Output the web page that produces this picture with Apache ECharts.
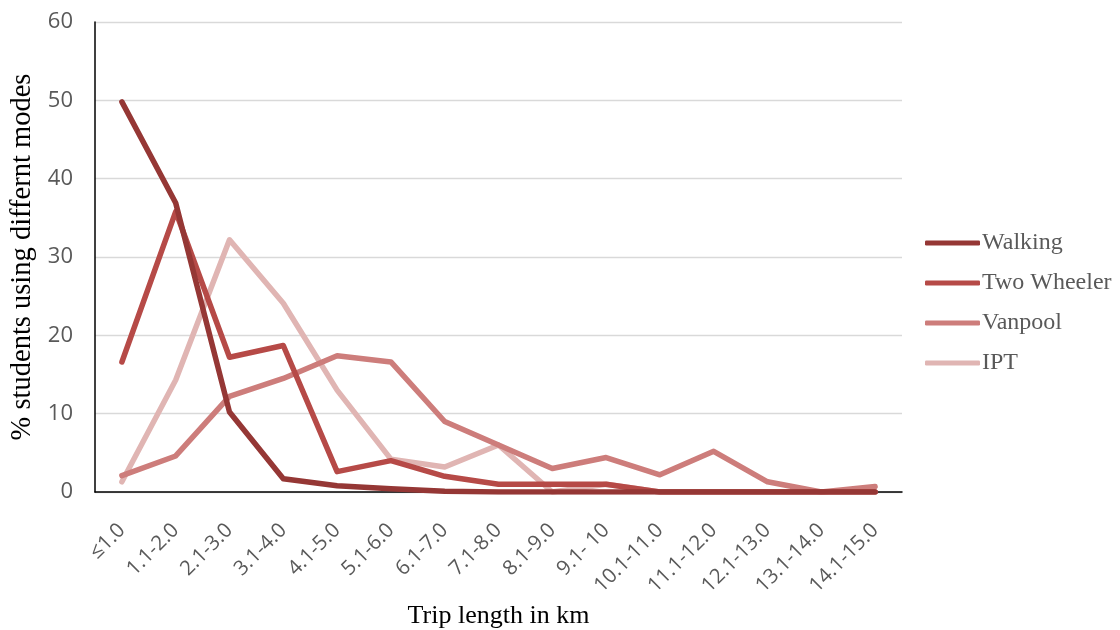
<!DOCTYPE html>
<html>
<head>
<meta charset="utf-8">
<script src="https://cdn.jsdelivr.net/npm/echarts@6/dist/echarts.min.js"></script>
<style>
  html, body { margin: 0; padding: 0; background: #fff; }
  #chart { width: 1120px; height: 630px; }
</style>
</head>
<body>
<div id="chart"></div>
<script>
// Trip length bands (km)
const categories = ['≤1.0', '1.1-2.0', '2.1-3.0', '3.1-4.0', '4.1-5.0', '5.1-6.0', '6.1-7.0',
  '7.1-8.0', '8.1-9.0', '9.1- 10', '10.1-11.0', '11.1-12.0', '12.1-13.0', '13.1-14.0', '14.1-15.0'];

// Share of students (%) per mode
const walking     = [49.8, 36.9, 10.2, 1.7, 0.8, 0.4, 0.1, 0, 0, 0, 0, 0, 0, 0, 0];
const twoWheeler  = [16.6, 35.8, 17.2, 18.7, 2.6, 4.0, 2.0, 1.0, 1.0, 1.0, 0, 0, 0, 0, 0];
const vanpool     = [2.1, 4.6, 12.2, 14.5, 17.4, 16.6, 9.0, 6.0, 3.0, 4.4, 2.2, 5.2, 1.3, 0, 0.7];
const ipt         = [1.3, 14.3, 32.2, 24.1, 13.0, 4.2, 3.2, 6.0, 0, 1.0, 0, 0, 0, 0, 0];

const seriesNames = ['Walking', 'Two Wheeler', 'Vanpool', 'IPT'];
const seriesData = [walking, twoWheeler, vanpool, ipt];
const colors = ['#953735', '#b64a47', '#cd7d7b', '#e0b5b3'];

const chart = echarts.init(document.getElementById('chart'), null, { renderer: 'canvas' });

chart.setOption({
  animation: false,
  backgroundColor: '#ffffff',
  color: colors,
  grid: { left: 95, right: 218, top: 22, bottom: 138, containLabel: false, outerBoundsMode: 'none' },
  legend: {
    orient: 'vertical',
    left: 920,
    top: 225,
    itemWidth: 55,
    itemHeight: 5,
    itemGap: 14,
    icon: 'roundRect',
    data: seriesNames,
    textStyle: { fontFamily: 'Liberation Serif', fontSize: 24, lineHeight: 26, color: '#595959', padding: [0, 0, 0, -3] }
  },
  xAxis: {
    type: 'category',
    data: categories,
    boundaryGap: true,
    name: 'Trip length in km',
    nameLocation: 'middle',
    nameGap: 110,
    nameTextStyle: { fontFamily: 'Liberation Serif', fontSize: 26, color: '#000' },
    axisLine: { show: true, lineStyle: { color: '#000', width: 1.5 } },
    axisTick: { show: false },
    axisLabel: { rotate: 45, margin: 35, fontFamily: 'Open Sans', fontSize: 20.5, color: '#595959', interval: 0 },
    splitLine: { show: false }
  },
  yAxis: {
    type: 'value',
    min: 0,
    max: 60,
    interval: 10,
    name: '% students using differnt modes',
    nameLocation: 'middle',
    nameGap: 57,
    nameTextStyle: { fontFamily: 'Liberation Serif', fontSize: 28.5, color: '#000' },
    axisLine: { show: true, lineStyle: { color: '#000', width: 1.5 } },
    axisTick: { show: false },
    axisLabel: { margin: 22, fontFamily: 'Open Sans', fontSize: 22, color: '#595959' },
    splitLine: { show: true, lineStyle: { color: '#d9d9d9', width: 1.3 } }
  },
  series: seriesNames.map((name, i) => ({
    name,
    type: 'line',
    data: seriesData[i],
    symbol: 'none',
    lineStyle: { width: 5.5, color: colors[i], cap: 'round', join: 'round' },
    itemStyle: { color: colors[i] },
    z: 10 - i
  }))
});
</script>
</body>
</html>
